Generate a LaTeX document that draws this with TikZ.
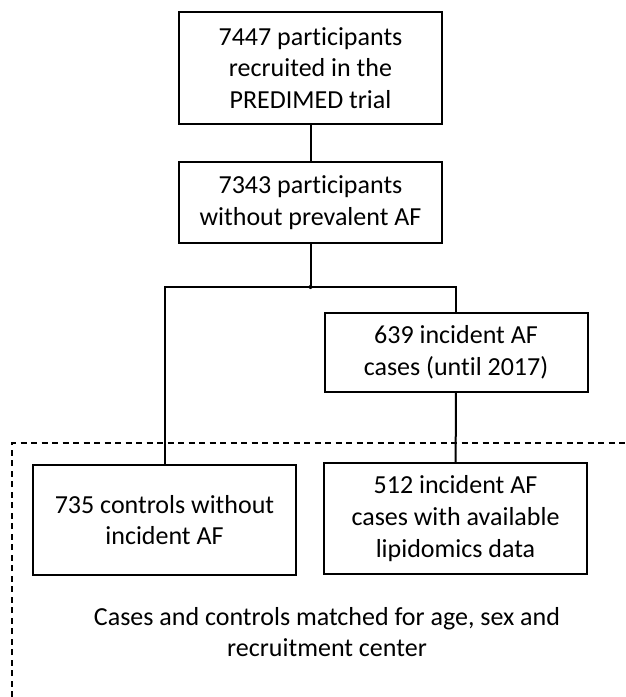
\documentclass[tikz,border=0pt]{standalone}
\usepackage{fontspec}
\setmainfont{Carlito}[Ligatures=NoCommon]
\usetikzlibrary{calc}

\tikzset{
  flowbox/.style={draw, line width=2pt, align=center, inner sep=0pt,
    minimum width=263, minimum height=#1, font=\fontsize{26}{31.7}\selectfont},
  flowbox/.default=80,
  link/.style={line width=2pt},
  matchline/.style={line width=1.5pt, dash pattern=on 6pt off 4.5pt}
}

\begin{document}
\begin{tikzpicture}[x=1pt,y=-1pt]
\useasboundingbox (0,0) rectangle (625,697);
%\draw [help lines,step=50] (0,0) grid (625,697);
\node [flowbox=112] (recruited) at (310.5,68) {7447 participants\\recruited in the\\PREDIMED trial};
\node [flowbox=81] (noprev) at (310.5,202.5) {7343 participants\\without prevalent AF};
\node [flowbox=79] (incident) at (456,352.5) {639 incident AF\\cases (until 2017)};
\node [flowbox=110] (controls) at (164.5,520) {735 controls without\\incident AF};
\node [flowbox=111] (lipid) at (455.5,518.5) {512 incident AF\\cases with available\\lipidomics data};
\node [align=center, font=\fontsize{26}{31.7}\selectfont] (matched) at (327,632)
  {Cases and controls matched for age, sex and\\recruitment center};

% branches
\coordinate (split) at (noprev.south |- 0,287);
\draw [link] (recruited) -- (noprev);
\draw [link] (noprev) -- (split);
\draw [link] (split) -- (split -| controls.north) -- (controls.north);
\draw [link] (split) -- (split -| incident.north) -- (incident.north);
\draw [link] (incident) -- (lipid);
\fill (split) circle (2pt);

% matched set
\coordinate (cornerA) at (12,697);
\coordinate (cornerB) at (12,443);
\coordinate (cornerC) at (625,443);
\draw [matchline] (cornerA) -- (cornerB) -- (cornerC);
\end{tikzpicture}
\end{document}
